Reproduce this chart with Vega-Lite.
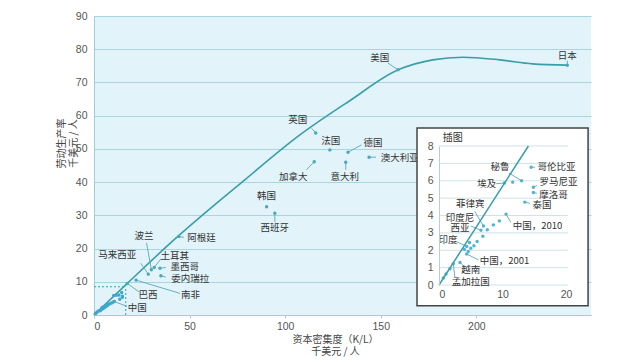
{
  "$schema": "https://vega.github.io/schema/vega-lite/v6.json",
  "width": 497,
  "height": 299,
  "autosize": {"type": "none"},
  "padding": {"left": 94, "top": 16, "right": 49, "bottom": 47},
  "background": "white",
  "config": {
    "font": "Noto Sans CJK SC",
    "view": {"fill": "#e2f3fa", "stroke": null},
    "text": {"font": "Noto Sans CJK SC", "fontSize": 9.5, "color": "#333", "lineBreak": "\n"}
  },
  "datasets": {
    "curve": [
      {"x": 0, "y": 0}, {"x": 17.4, "y": 9.5}, {"x": 41.8, "y": 22.6}, {"x": 78.9, "y": 40.7},
      {"x": 107.7, "y": 54.2}, {"x": 133.8, "y": 64.5}, {"x": 159.1, "y": 73.8}, {"x": 177.2, "y": 76.8},
      {"x": 192.9, "y": 77.6}, {"x": 212.2, "y": 76.8}, {"x": 229.5, "y": 75.6}, {"x": 247.6, "y": 75.2}
    ],
    "big": [
      {"name": "美国", "x": 159.1, "y": 73.8, "lx": 149.5, "ly": 77.5, "ex": 153.8, "ey": 75.8},
      {"name": "日本", "x": 247.6, "y": 75.2, "lx": 247.6, "ly": 78.0, "ex": 247.6, "ey": 76.6},
      {"name": "英国", "x": 116.0, "y": 54.8, "lx": 106.6, "ly": 58.7, "ex": 113.8, "ey": 56.2},
      {"name": "法国", "x": 123.4, "y": 49.7, "lx": 123.9, "ly": 52.3, "ex": null, "ey": null},
      {"name": "德国", "x": 132.9, "y": 49.0, "lx": 146.0, "ly": 51.9, "ex": 139.9, "ey": 51.2},
      {"name": "澳大利亚", "x": 143.9, "y": 47.5, "lx": 160.0, "ly": 47.4, "ex": 147.5, "ey": 47.5},
      {"name": "加拿大", "x": 115.2, "y": 46.1, "lx": 104.2, "ly": 41.5, "ex": 111.1, "ey": 43.7},
      {"name": "意大利", "x": 131.7, "y": 46.0, "lx": 131.2, "ly": 41.5, "ex": 131.7, "ey": 43.7},
      {"name": "韩国", "x": 90.3, "y": 32.6, "lx": 90.3, "ly": 35.9, "ex": null, "ey": null},
      {"name": "西班牙", "x": 94.6, "y": 30.6, "lx": 94.6, "ly": 26.1, "ex": 94.6, "ey": 28.0},
      {"name": "阿根廷", "x": 44.4, "y": 23.6, "lx": 56.2, "ly": 23.1, "ex": 47.0, "ey": 23.4},
      {"name": "波兰", "x": 30.0, "y": 13.6, "lx": 26.1, "ly": 23.9, "ex": 27.5, "ey": 21.7},
      {"name": "土耳其", "x": 31.5, "y": 14.3, "lx": 42.3, "ly": 17.8, "ex": 35.0, "ey": 16.9},
      {"name": "马来西亚", "x": 28.4, "y": 12.3, "lx": 12.2, "ly": 18.2, "ex": 24.4, "ey": 15.6},
      {"name": "墨西哥", "x": 34.5, "y": 14.1, "lx": 47.5, "ly": 14.5, "ex": 37.6, "ey": 14.3},
      {"name": "委内瑞拉", "x": 35.0, "y": 11.8, "lx": 50.3, "ly": 10.9, "ex": 37.6, "ey": 11.4},
      {"name": "南非", "x": 22.0, "y": 10.5, "lx": 50.5, "ly": 6.0, "ex": 45.0, "ey": 6.5},
      {"name": "巴西", "x": 17.4, "y": 9.5, "lx": 28.2, "ly": 6.0, "ex": 23.5, "ey": 7.0},
      {"name": "中国", "x": 10.5, "y": 4.08, "lx": 22.6, "ly": 2.2, "ex": 17.3, "ey": 2.6}
    ],
    "small": [
      {"name": "哥伦比亚", "x": 14.5, "y": 6.78, "lx": 18.5, "ly": 6.78, "ex": 15.1, "ey": 6.78},
      {"name": "秘鲁", "x": 13.0, "y": 6.0, "lx": 9.6, "ly": 6.78, "ex": 11.0, "ey": 6.45},
      {"name": "", "x": 11.6, "y": 5.92, "lx": null, "ly": null, "ex": null, "ey": null},
      {"name": "埃及", "x": 10.3, "y": 5.87, "lx": 7.5, "ly": 5.8, "ex": 9.0, "ey": 5.83},
      {"name": "罗马尼亚", "x": 14.85, "y": 5.63, "lx": 18.8, "ly": 5.9, "ex": 15.4, "ey": 5.72},
      {"name": "摩洛哥", "x": 14.85, "y": 5.32, "lx": 18.0, "ly": 5.16, "ex": 15.4, "ey": 5.28},
      {"name": "泰国", "x": 13.5, "y": 4.77, "lx": 16.2, "ly": 4.58, "ex": 14.3, "ey": 4.7},
      {"name": "菲律宾", "x": 7.0, "y": 3.4, "lx": 4.9, "ly": 4.65, "ex": 5.6, "ey": 4.25},
      {"name": "印度尼\n西亚", "x": 6.6, "y": 3.15, "lx": 3.3, "ly": 3.86, "ex": 5.0, "ey": 3.4},
      {"name": "印度", "x": 4.36, "y": 2.22, "lx": 1.4, "ly": 2.6, "ex": 2.6, "ey": 2.52},
      {"name": "中国，2001", "x": 4.36, "y": 1.78, "lx": 10.3, "ly": 1.38, "ex": 6.2, "ey": 1.45},
      {"name": "", "x": 4.6, "y": 1.93, "lx": null, "ly": null, "ex": null, "ey": null},
      {"name": "", "x": 5.0, "y": 2.12, "lx": null, "ly": null, "ex": null, "ey": null},
      {"name": "", "x": 5.5, "y": 2.26, "lx": null, "ly": null, "ex": null, "ey": null},
      {"name": "", "x": 6.0, "y": 2.5, "lx": null, "ly": null, "ex": null, "ey": null},
      {"name": "", "x": 6.9, "y": 2.8, "lx": null, "ly": null, "ex": null, "ey": null},
      {"name": "", "x": 7.6, "y": 3.18, "lx": null, "ly": null, "ex": null, "ey": null},
      {"name": "", "x": 8.55, "y": 3.46, "lx": null, "ly": null, "ex": null, "ey": null},
      {"name": "", "x": 9.5, "y": 3.69, "lx": null, "ly": null, "ex": null, "ey": null},
      {"name": "中国，2010", "x": 10.55, "y": 4.08, "lx": 15.5, "ly": 3.41, "ex": 11.3, "ey": 3.6},
      {"name": "越南", "x": 3.3, "y": 1.3, "lx": 5.0, "ly": 0.86, "ex": 4.1, "ey": 1.02},
      {"name": "孟加拉国", "x": 2.25, "y": 1.22, "lx": 5.0, "ly": 0.2, "ex": 2.5, "ey": 0.45},
      {"name": "", "x": 0.68, "y": 0.4, "lx": null, "ly": null, "ex": null, "ey": null},
      {"name": "", "x": 1.1, "y": 0.63, "lx": null, "ly": null, "ex": null, "ey": null},
      {"name": "", "x": 1.73, "y": 0.94, "lx": null, "ly": null, "ex": null, "ey": null},
      {"name": "", "x": 4.0, "y": 2.05, "lx": null, "ly": null, "ex": null, "ey": null},
      {"name": "", "x": 4.8, "y": 2.45, "lx": null, "ly": null, "ex": null, "ey": null}
    ],
    "dots": [
      {"x": 0, "y": 8.5, "x2": 16.6, "y2": 8.5},
      {"x": 16.6, "y": 0, "x2": 16.6, "y2": 8.5}
    ],
    "ingrid": [{"g": 0}, {"g": 1}, {"g": 2}, {"g": 3}, {"g": 4}, {"g": 5}, {"g": 6}, {"g": 7}, {"g": 8}],
    "inline": [{"x": 0, "y": 0}, {"x": 14.07, "y": 8}],
    "one": [{"t": "插图"}]
  },
  "layer": [
    {
      "data": {"name": "curve"},
      "mark": {"type": "line", "interpolate": "monotone", "color": "#3a9ea8", "strokeWidth": 1.6},
      "encoding": {
        "x": {"field": "x", "type": "quantitative", "title": ["资本密集度（K/L）", "千美元 / 人"],
          "scale": {"domain": [0, 260], "nice": false},
          "axis": {"orient": "bottom", "values": [0, 50, 100, 150, 200], "grid": false, "domainColor": "#9ccfd9", "tickColor": "#b0d0d6", "tickSize": 3,
            "labelPadding": 3, "labelFontSize": 10.5, "labelColor": "#555", "labelFont": "Liberation Sans",
            "titleFontSize": 10, "titleFontWeight": "normal", "titleColor": "#444", "titleX": 241, "titleY": 19,
            "titleBaseline": "top", "titleLineHeight": 12.5}},
        "y": {"field": "y", "type": "quantitative", "title": ["劳动生产率", "千美元 / 人"],
          "scale": {"domain": [0, 90], "nice": false},
          "axis": {"orient": "left", "values": [0, 10, 20, 30, 40, 50, 60, 70, 80, 90], "grid": true, "gridColor": "#a8d5de", "gridWidth": 1,
            "domainColor": "#9ccfd9", "ticks": false, "labelPadding": 7, "labelFontSize": 10.5, "labelColor": "#555", "labelFont": "Liberation Sans",
            "titleFontSize": 10, "titleFontWeight": "normal", "titleColor": "#444", "titleAngle": -90, "titleX": -33, "titleY": 127,
            "titleAlign": "center", "titleBaseline": "middle", "titleLineHeight": 12.5}}
      }
    },
    {
      "data": {"name": "dots"},
      "mark": {"type": "rule", "color": "#3a9ea8", "strokeDash": [2, 2], "strokeWidth": 1},
      "encoding": {
        "x": {"field": "x", "type": "quantitative", "scale": {"domain": [0, 260], "nice": false}, "axis": null},
        "x2": {"field": "x2"},
        "y": {"field": "y", "type": "quantitative", "scale": {"domain": [0, 90], "nice": false}, "axis": null},
        "y2": {"field": "y2"}
      }
    },
    {
      "data": {"name": "big"},
      "transform": [{"filter": "datum.ex != null"}],
      "mark": {"type": "rule", "color": "#5aa9b6", "strokeWidth": 0.9},
      "encoding": {
        "x": {"field": "x", "type": "quantitative", "scale": {"domain": [0, 260], "nice": false}, "axis": null},
        "x2": {"field": "ex"},
        "y": {"field": "y", "type": "quantitative", "scale": {"domain": [0, 90], "nice": false}, "axis": null},
        "y2": {"field": "ey"}
      }
    },
    {
      "data": {"name": "small"},
      "mark": {"type": "circle", "color": "#3fa6d0", "size": 12, "opacity": 1},
      "encoding": {
        "x": {"field": "x", "type": "quantitative", "scale": {"domain": [0, 260], "nice": false}, "axis": null},
        "y": {"field": "y", "type": "quantitative", "scale": {"domain": [0, 90], "nice": false}, "axis": null}
      }
    },
    {
      "data": {"name": "big"},
      "mark": {"type": "circle", "color": "#4aa8b8", "size": 12, "opacity": 1},
      "encoding": {
        "x": {"field": "x", "type": "quantitative", "scale": {"domain": [0, 260], "nice": false}, "axis": null},
        "y": {"field": "y", "type": "quantitative", "scale": {"domain": [0, 90], "nice": false}, "axis": null}
      }
    },
    {
      "data": {"name": "big"},
      "mark": {"type": "text", "align": "center", "baseline": "middle"},
      "encoding": {
        "x": {"field": "lx", "type": "quantitative", "scale": {"domain": [0, 260], "nice": false}, "axis": null},
        "y": {"field": "ly", "type": "quantitative", "scale": {"domain": [0, 90], "nice": false}, "axis": null},
        "text": {"field": "name"}
      }
    },
    {
      "data": {"name": "one"},
      "mark": {"type": "rect", "fill": "white", "stroke": "#444", "strokeWidth": 1.5},
      "encoding": {
        "x": {"datum": -3.46, "type": "quantitative", "scale": {"domain": [0, 20.3], "range": [345, 474], "nice": false}, "axis": null},
        "x2": {"datum": 23.46},
        "y": {"datum": -1.19, "type": "quantitative", "scale": {"domain": [0, 8], "range": [269, 130], "nice": false}, "axis": null},
        "y2": {"datum": 9.03}
      }
    },
    {
      "data": {"name": "ingrid"},
      "mark": {"type": "rule", "color": "#cfe2e8", "strokeWidth": 1},
      "encoding": {
        "x": {"datum": 0, "type": "quantitative", "scale": {"domain": [0, 20.3], "range": [345, 474], "nice": false}, "axis": null},
        "x2": {"datum": 20.3},
        "y": {"field": "g", "type": "quantitative", "scale": {"domain": [0, 8], "range": [269, 130], "nice": false}, "axis": null}
      }
    },
    {
      "data": {"name": "small"},
      "transform": [{"filter": "datum.ex != null"}],
      "mark": {"type": "rule", "color": "#5aa9b6", "strokeWidth": 0.9},
      "encoding": {
        "x": {"field": "x", "type": "quantitative", "scale": {"domain": [0, 20.3], "range": [345, 474], "nice": false}, "axis": null},
        "x2": {"field": "ex"},
        "y": {"field": "y", "type": "quantitative", "scale": {"domain": [0, 8], "range": [269, 130], "nice": false}, "axis": null},
        "y2": {"field": "ey"}
      }
    },
    {
      "data": {"name": "small"},
      "mark": {"type": "circle", "color": "#52b3d3", "size": 12, "opacity": 1},
      "encoding": {
        "x": {"field": "x", "type": "quantitative", "scale": {"domain": [0, 20.3], "range": [345, 474], "nice": false}, "axis": null},
        "y": {"field": "y", "type": "quantitative", "scale": {"domain": [0, 8], "range": [269, 130], "nice": false}, "axis": null}
      }
    },
    {
      "data": {"name": "inline"},
      "mark": {"type": "line", "color": "#3a9ea8", "strokeWidth": 1.5},
      "encoding": {
        "x": {"field": "x", "type": "quantitative", "scale": {"domain": [0, 20.3], "range": [345, 474], "nice": false},
          "axis": {"orient": "bottom", "offset": -30, "values": [0, 10, 20], "grid": false, "domain": false, "ticks": false,
            "labelPadding": 4, "labelFontSize": 10.5, "labelColor": "#555", "labelFont": "Liberation Sans", "title": null, "zindex": 1}},
        "y": {"field": "y", "type": "quantitative", "scale": {"domain": [0, 8], "range": [269, 130], "nice": false},
          "axis": {"orient": "left", "offset": -345, "values": [0, 1, 2, 3, 4, 5, 6, 7, 8], "grid": false, "domain": true, "domainColor": "#b9cdd2",
            "ticks": false, "labelPadding": 6, "labelFontSize": 10.5, "labelColor": "#555", "labelFont": "Liberation Sans", "title": null, "zindex": 1}}
      }
    },
    {
      "data": {"name": "small"},
      "transform": [{"filter": "datum.name != ''"}],
      "mark": {"type": "text", "align": "center", "baseline": "middle", "lineHeight": 10},
      "encoding": {
        "x": {"field": "lx", "type": "quantitative", "scale": {"domain": [0, 20.3], "range": [345, 474], "nice": false}, "axis": null},
        "y": {"field": "ly", "type": "quantitative", "scale": {"domain": [0, 8], "range": [269, 130], "nice": false}, "axis": null},
        "text": {"field": "name"}
      }
    },
    {
      "data": {"name": "one"},
      "mark": {"type": "text", "align": "left", "baseline": "middle", "fontSize": 10},
      "encoding": {
        "x": {"datum": 0.6, "type": "quantitative", "scale": {"domain": [0, 20.3], "range": [345, 474], "nice": false}, "axis": null},
        "y": {"datum": 8.46, "type": "quantitative", "scale": {"domain": [0, 8], "range": [269, 130], "nice": false}, "axis": null},
        "text": {"field": "t"}
      }
    }
  ],
  "resolve": {"scale": {"x": "independent", "y": "independent"}}
}
